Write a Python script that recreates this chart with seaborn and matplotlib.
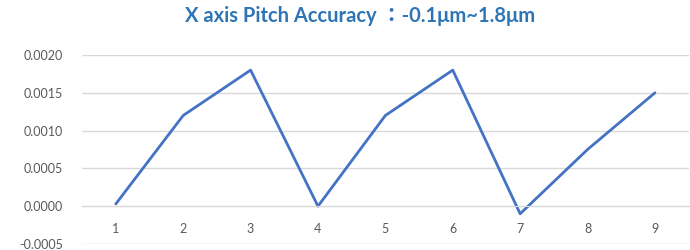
import matplotlib.pyplot as plt
import seaborn as sns
import pandas as pd

# datos del grafico
puntos = [1, 2, 3, 4, 5, 6, 7, 8, 9]
valores = [0.00003, 0.0012, 0.0018, 0.0, 0.0012, 0.0018, -0.0001, 0.00075, 0.0015]
yticks = [-0.0005, 0.0, 0.0005, 0.0010, 0.0015, 0.0020]
titulo = "X axis Pitch Accuracy ：-0.1μm~1.8μm"

sns.set_style("white")
plt.rcParams["font.family"] = ["Lato", "Noto Sans CJK TC", "DejaVu Sans"]

df = pd.DataFrame({"punto": puntos, "valor": valores})

fig = plt.figure(figsize=(6.9, 2.5), dpi=100)
ax = fig.add_axes([0.119, 0.024, 0.879, 0.756])
sns.lineplot(data=df, x="punto", y="valor", ax=ax, color="#4472C4", linewidth=2)

ax.set_xlim(0.5, 9.5)
ax.set_ylim(-0.0005, 0.0020)
ax.set_yticks(yticks)
ax.set_yticklabels([f"{v:.4f}" for v in yticks])
ax.set_xticks(puntos)
ax.set_xticklabels([str(p) for p in puntos])
ax.grid(axis="y", color="#D9D9D9", linewidth=1)
ax.set_axisbelow(True)

for lado in ["top", "right", "left"]:
    ax.spines[lado].set_visible(False)
ax.spines["bottom"].set_position(("data", 0))
ax.spines["bottom"].set_color("#D9D9D9")
ax.tick_params(axis="x", length=0, pad=12, labelsize=9, labelcolor="#595959")
ax.tick_params(axis="y", length=0, pad=14, labelsize=9, labelcolor="#595959")
ax.set_xlabel("")
ax.set_ylabel("")

fig.suptitle(titulo, x=0.522, y=0.975, fontsize=14.5, fontweight="bold", color="#2E75B6")

plt.savefig("out.png", dpi=100)
plt.close()
